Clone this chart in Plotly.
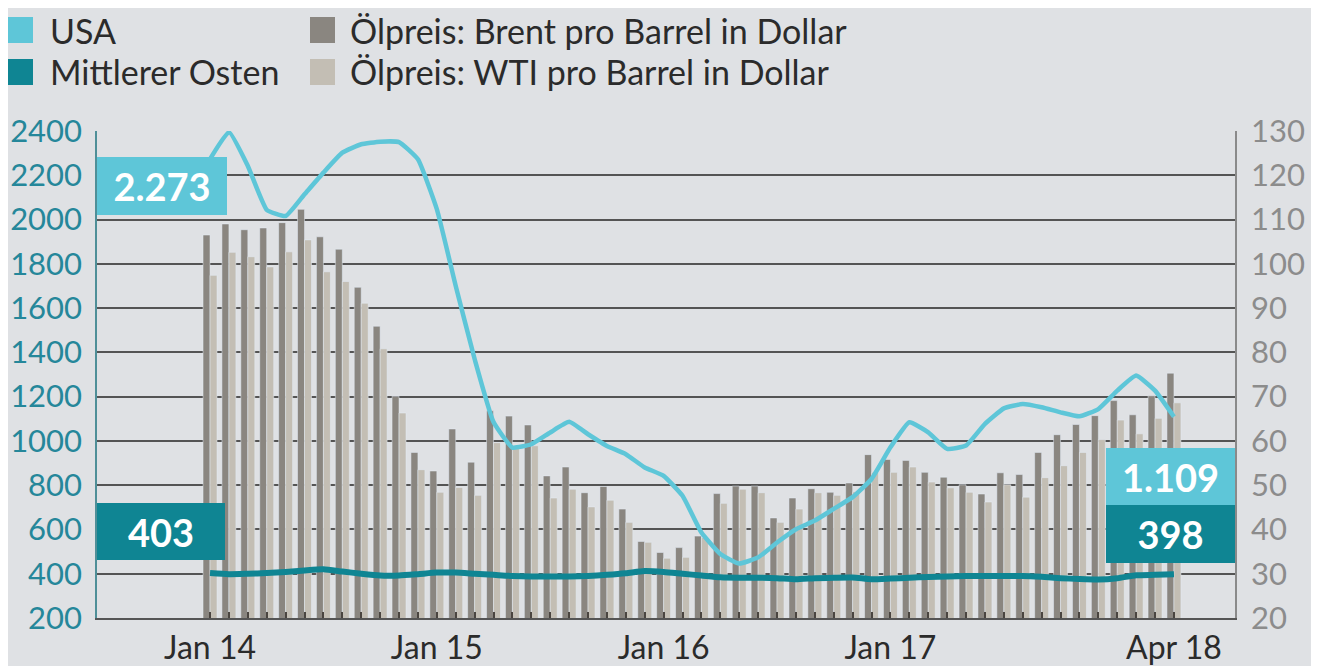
import plotly.graph_objects as go

# ---------------- data ----------------
months = list(range(52))  # Jan 2014 .. Apr 2018
tick_labels = {0: "Jan 14", 12: "Jan 15", 24: "Jan 16", 36: "Jan 17", 51: "Apr 18"}

usa = [2273, 2395, 2242, 2044, 2016, 2114, 2212, 2302, 2340, 2352, 2350, 2272,
       2047, 1700, 1370, 1085, 970, 985, 1038, 1086, 1030, 977, 940, 880,
       842, 752, 586, 489, 446, 474, 541, 601, 640, 693, 746, 828,
       971, 1084, 1039, 964, 979, 1077, 1147, 1167, 1152, 1129, 1111, 1144,
       1227, 1295, 1227, 1109]

mideast = [403, 398, 400, 403, 408, 415, 420, 410, 400, 392, 392, 398,
           405, 405, 400, 395, 390, 388, 388, 388, 390, 395, 402, 412,
           408, 400, 392, 384, 382, 382, 380, 375, 380, 382, 383, 375,
           378, 382, 385, 388, 390, 390, 390, 390, 386, 380, 376, 374,
           380, 393, 395, 398]

brent = [106.5, 109, 107.7, 108.1, 109.3, 112.3, 106.1, 103.3, 94.7, 85.9, 70.1, 57.4,
         53.2, 62.7, 55.2, 66.8, 65.6, 63.6, 52.1, 54.1, 48.3, 49.7, 44.6, 37.3,
         34.8, 35.9, 38.5, 48.1, 49.8, 49.8, 42.6, 47.1, 49.2, 48.4, 50.5, 56.9,
         55.8, 55.6, 52.9, 51.8, 50.1, 48.0, 52.8, 52.4, 57.4, 61.4, 63.7, 65.7,
         69.1, 65.9, 70.2, 75.3]

wti = [97.4, 102.6, 101.6, 99.3, 102.7, 105.4, 98.2, 96.0, 91.1, 80.8, 66.3, 53.5,
       48.4, 49.5, 47.7, 59.6, 58.9, 58.9, 47.1, 49.1, 45.1, 46.6, 41.6, 37.1,
       33.5, 33.7, 38.2, 45.9, 49.1, 48.3, 41.6, 44.6, 48.3, 47.7, 48.5, 52.9,
       52.9, 54.1, 50.7, 49.4, 48.4, 46.2, 50.1, 47.3, 51.7, 54.4, 57.4, 60.3,
       64.7, 61.6, 65.1, 68.6]

series_names = ["USA", "Mittlerer Osten",
                "Ölpreis: Brent pro Barrel in Dollar", "Ölpreis: WTI pro Barrel in Dollar"]

# ---------------- styling ----------------
BG = "#dfe1e4"
C_USA = "#5ec6d8"
C_ME = "#0f8593"
C_BRENT = "#8a8680"
C_WTI = "#c3beb4"
FONT = "Lato"

OFF = 8  # default page body margin
W, H = 1319 - OFF, 666 - OFF
# plot area in screen pixels (reference)
L, R, T, B = 97, 1235, 131, 618


def px(xp):
    return (xp - L) / (R - L)


def py(yp):
    return (B - yp) / (B - T)


fig = go.Figure()

bw = 0.37
fig.add_trace(go.Bar(x=months, y=brent, name=series_names[2], marker_color=C_BRENT,
                     width=bw, offset=-bw, yaxis="y", showlegend=False))
fig.add_trace(go.Bar(x=months, y=wti, name=series_names[3], marker_color=C_WTI,
                     width=bw, offset=0, yaxis="y", showlegend=False))
fig.add_trace(go.Scatter(x=months, y=mideast, name=series_names[1], mode="lines",
                         line=dict(color=C_ME, width=6, shape="spline", smoothing=0.6),
                         yaxis="y2", showlegend=False))
fig.add_trace(go.Scatter(x=months, y=usa, name=series_names[0], mode="lines",
                         line=dict(color=C_USA, width=4.5, shape="spline", smoothing=0.4),
                         yaxis="y2", showlegend=False))

fig.update_layout(
    width=W, height=H,
    margin=dict(l=L - OFF, r=W - (R - OFF), t=T - OFF, b=H - (B - OFF), pad=0,
                autoexpand=False),
    paper_bgcolor=BG, plot_bgcolor=BG,
    barmode="overlay",
    font=dict(family=FONT, color="#333333"),
    xaxis=dict(
        range=[-5.98, 54.23],
        tickvals=months,
        ticktext=[tick_labels.get(m, "") for m in months],
        ticks="inside", ticklen=6, tickwidth=2, tickcolor="#4a4540",
        ticklabelstandoff=1, automargin=False,
        showgrid=False, zeroline=False,
        showline=True, linecolor="#555555", linewidth=2,
        tickfont=dict(size=32, color="#2b2b2b"),
    ),
    yaxis=dict(  # right axis: oil price
        range=[20, 130], dtick=10, side="right", automargin=False,
        showgrid=False, zeroline=False,
        showline=True, linecolor="#8a8a8a", linewidth=1.5,
        ticks="outside", ticklen=8, tickcolor="rgba(0,0,0,0)",
        tickfont=dict(size=31, color="#8c8c8c"),
    ),
    yaxis2=dict(  # left axis: rig count
        range=[200, 2400], dtick=200, side="left", overlaying="y", automargin=False,
        showgrid=True, gridcolor="#545454", gridwidth=2,
        zeroline=False,
        showline=True, linecolor="#4f8f98", linewidth=1.5,
        ticks="outside", ticklen=7, tickcolor="rgba(0,0,0,0)",
        tickfont=dict(size=31, color="#25879a"),
    ),
)

shapes = []
annotations = []

boxes = [
    (L, 157, 130, 58, C_USA, "2.273"),
    (L, 503, 128, 57, C_ME, "403"),
    (1106, 448, 129, 57, C_USA, "1.109"),
    (1106, 505, 129, 58, C_ME, "398"),
]
for x0, y0, w, h, col, txt in boxes:
    annotations.append(dict(
        xref="paper", yref="paper", x=px(x0), y=py(y0), xanchor="left", yanchor="top",
        width=w, height=h, bgcolor=col, borderpad=0, borderwidth=0,
        text=f"<b>{txt}</b>", showarrow=False, align="center", valign="middle",
        font=dict(size=38, color="white", family=FONT),
    ))

legend_items = [
    (8, 17, C_USA, 50, series_names[0]),
    (8, 59, C_ME, 50, series_names[1]),
    (310, 17, C_BRENT, 350, series_names[2]),
    (310, 59, C_WTI, 350, series_names[3]),
]
for sx, sy, col, tx, label in legend_items:
    shapes.append(dict(type="rect", xref="paper", yref="paper",
                       x0=px(sx), x1=px(sx + 25), y0=py(sy + 26), y1=py(sy),
                       fillcolor=col, line=dict(width=0), layer="above"))
    annotations.append(dict(
        xref="paper", yref="paper", x=px(tx - 2), y=py(sy + 13), xanchor="left", yanchor="middle",
        text=label, showarrow=False, font=dict(size=34, color="#2b2b2b", family=FONT),
    ))

fig.update_layout(shapes=shapes, annotations=annotations)

fig.write_html("out.html")
